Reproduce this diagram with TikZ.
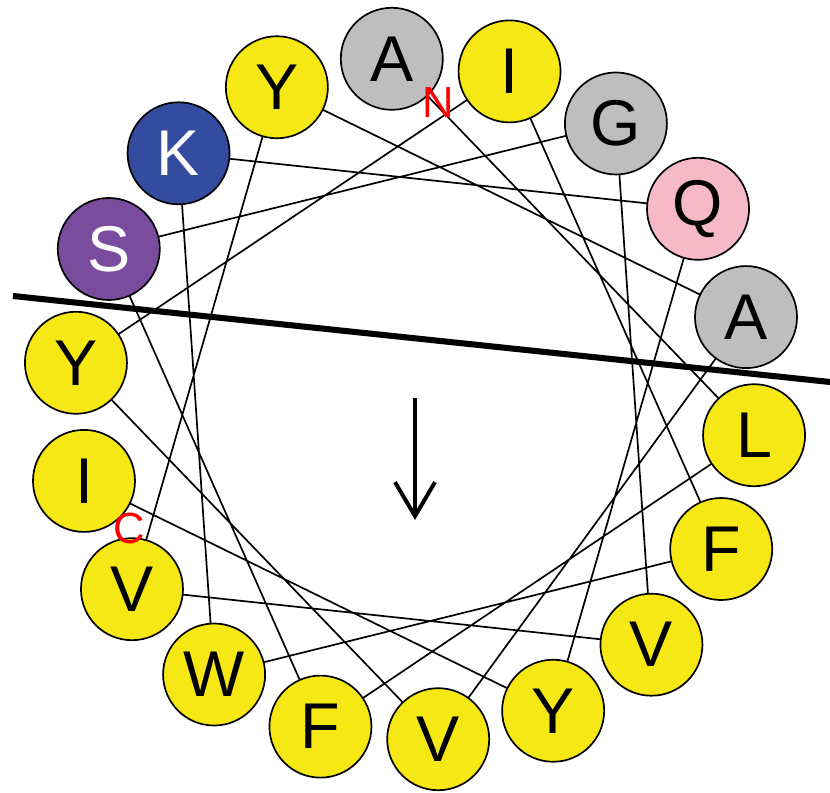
\documentclass[tikz,border=0pt]{standalone}
\usepackage{fontspec}
\setmainfont{Liberation Sans}
\usetikzlibrary{arrows.meta}

\definecolor{resyellow}{RGB}{245,232,20}
\definecolor{resgray}{RGB}{190,190,190}
\definecolor{respink}{RGB}{245,185,200}
\definecolor{resblue}{RGB}{52,76,160}
\definecolor{respurple}{RGB}{122,76,158}

\begin{document}
\begin{tikzpicture}[x=0.025cm,y=0.025cm,
    res/.style={circle,draw,line width=1.2pt,minimum size=2.55cm,inner sep=0pt,
      font=\fontsize{46}{46}\selectfont},
    term/.style={text=red,font=\fontsize{31}{31}\selectfont}]
          \useasboundingbox (0,0) rectangle (830,792);

          \begin{scope}[shift={(415,393)}]
          % wheel positions, residue n at 100 degrees from n-1
          \coordinate (p1) at (93.9:341);
          \coordinate (p2) at (-6.1:341);
          \coordinate (p3) at (-106.1:341);
          \coordinate (p4) at (153.9:341);
          \coordinate (p5) at (53.9:341);
          \coordinate (p6) at (-46.1:341);
          \coordinate (p7) at (-146.1:341);
          \coordinate (p8) at (113.9:341);
          \coordinate (p9) at (13.9:341);
          \coordinate (p10) at (-86.1:341);
          \coordinate (p11) at (173.9:341);
          \coordinate (p12) at (73.9:341);
          \coordinate (p13) at (-26.1:341);
          \coordinate (p14) at (-126.1:341);
          \coordinate (p15) at (133.9:341);
          \coordinate (p16) at (33.9:341);
          \coordinate (p17) at (-66.1:341);
          \coordinate (p18) at (-166.1:341);

          \draw[line width=1.2pt] (p1)--(p2)--(p3)--(p4)--(p5)--(p6)--(p7)--(p8)--(p9)
            --(p10)--(p11)--(p12)--(p13)--(p14)--(p15)--(p16)--(p17)--(p18);

          \node[res,fill=resgray] (r1) at (p1) {A};
          \node[res,fill=resyellow] (r2) at (p2) {L};
          \node[res,fill=resyellow] (r3) at (p3) {F};
          \node[res,fill=respurple,text=white] (r4) at (p4) {S};
          \node[res,fill=resgray] (r5) at (p5) {G};
          \node[res,fill=resyellow] (r6) at (p6) {V};
          \node[res,fill=resyellow] (r7) at (p7) {V};
          \node[res,fill=resyellow] (r8) at (p8) {Y};
          \node[res,fill=resgray] (r9) at (p9) {A};
          \node[res,fill=resyellow] (r10) at (p10) {V};
          \node[res,fill=resyellow] (r11) at (p11) {Y};
          \node[res,fill=resyellow] (r12) at (p12) {I};
          \node[res,fill=resyellow] (r13) at (p13) {F};
          \node[res,fill=resyellow] (r14) at (p14) {W};
          \node[res,fill=resblue,text=white] (r15) at (p15) {K};
          \node[res,fill=respink] (r16) at (p16) {Q};
          \node[res,fill=resyellow] (r17) at (p17) {Y};
          \node[res,fill=resyellow] (r18) at (p18) {I};
          \end{scope}

          \node[term] (nterm) at (438,689) {N};
          \node[term] (cterm) at (129,264) {C};

          % hydrophobic face boundary and moment
          \coordinate (cutl) at (13,496);
          \coordinate (cutr) at (830,410);
          \draw[line width=4.3pt] (cutl)--(cutr);
          \coordinate (mtop) at (415,394);
          \coordinate (mend) at (415,272);
          \draw[line width=2.8pt,-{Straight Barb[length=0.85cm,width=1.0cm,line width=2.8pt]}] (mtop)--(mend);
        \end{tikzpicture}
\end{document}
